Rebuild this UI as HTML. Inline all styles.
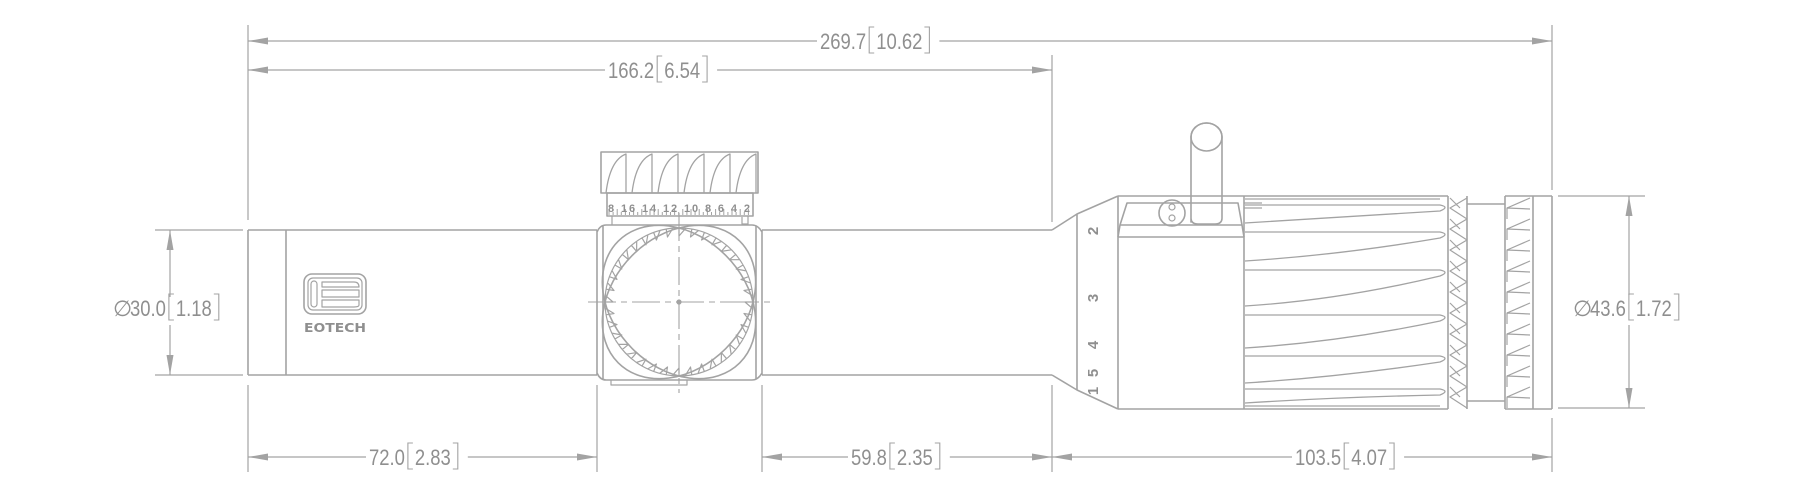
<!DOCTYPE html>
<html><head><meta charset="utf-8">
<style>
html,body{margin:0;padding:0;background:#fff;}
svg{display:block;}
text{font-family:"Liberation Sans Narrow","Liberation Sans",sans-serif;fill:#8f8f8f;}
</style></head>
<body>
<svg id="s" width="1800" height="500" viewBox="0 0 1800 500" xmlns="http://www.w3.org/2000/svg">
<g id="g" fill="none" stroke="#a3a3a3" stroke-width="1.6" stroke-linejoin="round">
<path stroke-width="1.2" d="M248 25V220 M248 385V472 M1052 55V222 M1052 385V472 M1552 25V190 M1552 418V472 M597 385V472 M762 385V472 M155 230H243 M155 375H243 M1558 196H1645 M1558 408H1645"/>
<path d="M248 230H597 M248 375H597 M248 230V375 M286 230V375 M762 230H1052 M762 375H1052"/>
<rect x="304" y="274" width="62" height="40" rx="8"/>
<rect x="308" y="278" width="54" height="32" rx="5" stroke-width="1.2"/>
<rect x="311" y="281" width="6" height="26" rx="3" stroke-width="1.2"/>
<path stroke-width="1.2" d="M322 282H354Q359 282 359 287H322Z M322 290H359V297H322Z M322 300H359V305Q359 307 354 307H322Z"/>
<path d="M597 232Q600 225 606 225H752Q758 225 762 232 M597 373Q600 380 606 380H752Q758 380 762 373 M597 230V375 M762 230V375 M603 226V379 M756 226V379"/>
<path d="M611 380V385H687V380" stroke-width="1.2"/>
<rect x="601" y="152" width="157" height="41"/>
<rect x="607" y="193" width="146" height="23"/>
<path d="M612 216V225 M748 216V225 M742 217V224H748" stroke-width="1.2"/>
<ellipse cx="679" cy="302" rx="86" ry="66" transform="rotate(45 679 302)"/>
<ellipse cx="679" cy="302" rx="86" ry="66" transform="rotate(-45 679 302)"/>
<path stroke-width="1.1" stroke-dasharray="28 5 6 5" d="M588 302H770 M679 213V393"/>
<circle cx="679" cy="302" r="1.8" fill="#a3a3a3"/>
<path d="M1052 230L1077 214L1118 196 M1052 375L1077 390L1118 409 M1077 214V390 M1118 196V409 M1118 196H1448 M1118 409H1448 M1244 196V409"/>
<path d="M1127 203H1238L1242 225H1120Z M1118 237H1244 M1120 225L1118 237 M1242 225L1244 237"/>
<path d="M1244 203H1262 M1244 208H1262" stroke-width="1.2"/>
<path d="M1191 222V137A15.5 14 0 0 1 1222 137V218Q1222 224 1215 224H1198Q1191 224 1191 218Z"/>
<ellipse cx="1206.5" cy="137" rx="15.5" ry="14"/>
<circle cx="1172" cy="213" r="13"/>
<circle cx="1172" cy="207" r="3" stroke-width="1.2"/>
<circle cx="1172" cy="218" r="3" stroke-width="1.2"/>
<path d="M1448 196V409 M1467 196V409 M1467 204H1505 M1467 401H1505 M1505 196V409 M1533 196V409 M1505 196H1552 M1505 409H1552 M1552 196V409"/>
<path id="ribs" stroke-width="1.3"/>
<path id="kn" stroke-width="1.2"/>
<path id="cap" stroke-width="1.3"/>
<path id="teeth" stroke-width="1.2"/>
<path id="ticks" stroke-width="1"/>
</g>
<g id="dims" stroke="#a3a3a3" stroke-width="1.2" fill="none"></g>
<g id="txt"></g>
<text x="304" y="332" textLength="62" lengthAdjust="spacingAndGlyphs" font-size="12" font-weight="bold" fill="#9a9a9a" style="font-family:'DejaVu Sans',sans-serif">EOTECH</text>
<text x="608" y="212" textLength="142" lengthAdjust="spacing" font-weight="bold" fill="#888" style="font-size:11px">8 16 14 12 10 8 6 4 2</text>
<g font-size="15" font-weight="bold" style="font-family:'DejaVu Serif',serif">
<text transform="translate(1093,231) rotate(-90)" text-anchor="middle" dy="5">2</text>
<text transform="translate(1093,298) rotate(-90)" text-anchor="middle" dy="5">3</text>
<text transform="translate(1093,345) rotate(-90)" text-anchor="middle" dy="5">4</text>
<text transform="translate(1093,373) rotate(-90)" text-anchor="middle" dy="5">5</text>
<text transform="translate(1093,391) rotate(-90)" text-anchor="middle" dy="5">1</text>
</g>
</svg>
<script>
var NS="http://www.w3.org/2000/svg";
function el(p,t,a,txt){var e=document.createElementNS(NS,t);for(var k in a)e.setAttribute(k,a[k]);if(txt)e.textContent=txt;p.appendChild(e);return e;}
var r="",ys=[205,232,270,315,356,389],ye=[223,261,306,348,383,403];
for(var i=0;i<ys.length;i++){r+="M1245 "+ys[i]+"H1440Q1450 "+(ys[i]+2)+" 1440 "+(ys[i]+6)+"Q1340 "+(ye[i]-6)+" 1245 "+ye[i]+" ";}
r+="M1245 199H1440 M1245 406H1440";
document.getElementById("ribs").setAttribute("d",r);
var k="";
for(var y=198;y<405;y+=21){k+="M1467 "+y+"L1450 "+(y+10)+"L1467 "+(y+21)+" M1450 "+y+"L1460 "+(y+10)+" ";}
for(var y=198;y<405;y+=21){k+="M1530 "+y+"L1507 "+(y+10)+"L1530 "+(y+11)+" M1507 "+(y+10)+"L1507 "+(y+21)+" ";}
document.getElementById("kn").setAttribute("d",k);
var c="";
for(var x=606;x<745;x+=26){c+="M"+x+" 193Q"+(x+4)+" 160 "+(x+20)+" 154V193 ";}
document.getElementById("cap").setAttribute("d",c);
var t="";
for(var x=609;x<752;x+=4.1){var h=((Math.round((x-609)/4.1))%2==0)?6:3;t+="M"+x.toFixed(1)+" 215V"+(215-h)+" ";}
document.getElementById("ticks").setAttribute("d",t);
var th="M753 302A74 74 0 1 1 753 301.9 ";
for(var i=0;i<36;i++){var a=i*Math.PI*2/36,a2=a+0.09;var x1=679+74*Math.cos(a),y1=302+74*Math.sin(a),x2=679+66*Math.cos(a),y2=302+66*Math.sin(a),x3=679+74*Math.cos(a2),y3=302+74*Math.sin(a2);th+="M"+x1.toFixed(1)+" "+y1.toFixed(1)+"L"+x2.toFixed(1)+" "+y2.toFixed(1)+"L"+x3.toFixed(1)+" "+y3.toFixed(1)+" ";}
document.getElementById("teeth").setAttribute("d",th);
var D=document.getElementById("dims"),T=document.getElementById("txt");
function arrowH(x,y,dir){el(D,"path",{d:"M"+x+" "+y+"L"+(x+dir*20)+" "+(y-3.5)+"L"+(x+dir*20)+" "+(y+3.5)+"Z",fill:"#a3a3a3",stroke:"none"});}
function arrowV(x,y,dir){el(D,"path",{d:"M"+x+" "+y+"L"+(x-3.5)+" "+(y+dir*20)+"L"+(x+3.5)+" "+(y+dir*20)+"Z",fill:"#a3a3a3",stroke:"none"});}
function w(s){var n=0;for(var i=0;i<s.length;i++)n+=(s[i]=="."?5:10.3);return n;}
function label(x0,base,a,b,dia){
 var x=x0;
 if(dia){el(T,"text",{x:x,y:base,"font-size":22},"\u2205");x+=17;}
 var wa=w(a);el(T,"text",{x:x,y:base,"font-size":22,textLength:wa,lengthAdjust:"spacingAndGlyphs"},a);x+=wa+3;
 el(D,"path",{d:"M"+(x+5)+" "+(base-22)+"H"+x+"V"+(base+4)+"H"+(x+5),"stroke-width":1.1});x+=7;
 var wb=w(b);el(T,"text",{x:x,y:base,"font-size":22,textLength:wb,lengthAdjust:"spacingAndGlyphs"},b);x+=wb+2;
 el(D,"path",{d:"M"+x+" "+(base-22)+"H"+(x+5)+"V"+(base+4)+"H"+x,"stroke-width":1.1});x+=5;
 return x;
}
function hdim(x1,x2,y,lx,a,b){var e=label(lx,y+8,a,b,false);
 el(D,"path",{d:"M"+x1+" "+y+"H"+(lx-3)+" M"+(e+10)+" "+y+"H"+x2});arrowH(x1,y,1);arrowH(x2,y,-1);}
hdim(248,1552,41,820,"269.7","10.62");
hdim(248,1052,70,608,"166.2","6.54");
hdim(248,597,457,369,"72.0","2.83");
hdim(762,1052,457,851,"59.8","2.35");
hdim(1052,1552,457,1295,"103.5","4.07");
el(D,"path",{d:"M170 230V297 M170 325V375"});arrowV(170,230,1);arrowV(170,375,-1);
label(113,316,"30.0","1.18",true);
el(D,"path",{d:"M1629 196V295 M1629 325V408"});arrowV(1629,196,1);arrowV(1629,408,-1);
label(1573,316,"43.6","1.72",true);
</script>
</body></html>
